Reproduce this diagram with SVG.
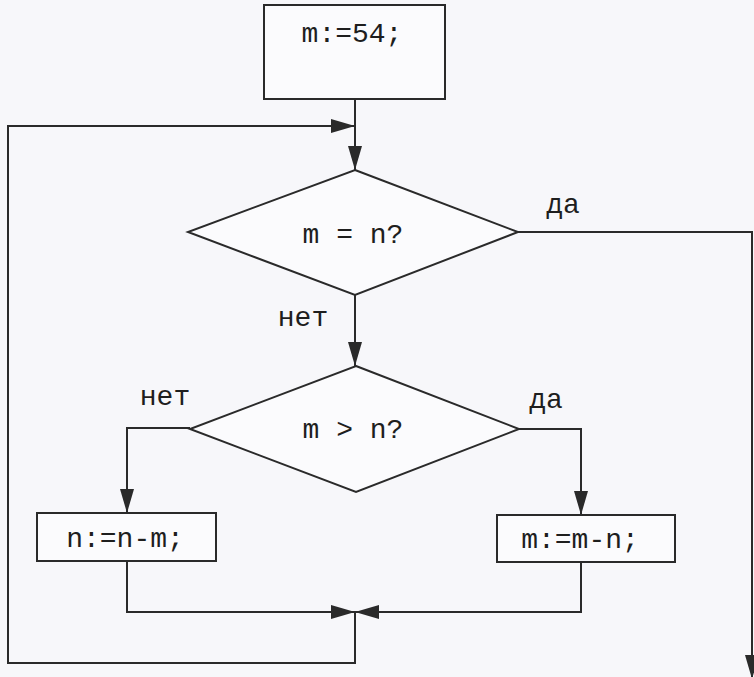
<svg xmlns="http://www.w3.org/2000/svg" width="754" height="677" viewBox="0 0 754 677">
  <style>
    .box { fill: #fbfbfd; stroke: #2a2a2a; stroke-width: 2; }
    .dia { fill: #fbfbfd; stroke: #2a2a2a; stroke-width: 2; }
    .conn { fill: none; stroke: #2a2a2a; stroke-width: 2; }
    .t { font-family: "Liberation Mono", "Courier New", monospace; font-size: 28px; fill: #1e1e1e; text-anchor: middle; }
    .lbl { font-family: "Liberation Mono", "Courier New", monospace; font-size: 28px; fill: #1e1e1e; text-anchor: middle; }
  </style>
  <defs>
    <marker id="ah" viewBox="0 0 24 14" refX="24" refY="7" markerWidth="24" markerHeight="14" markerUnits="userSpaceOnUse" orient="auto">
      <path d="M0,0 L24,7 L0,14 z" fill="#2a2a2a"/>
    </marker>
  </defs>
  <rect x="0" y="0" width="754" height="677" fill="#f7f7fa"/>

  <g id="connectors">
    <path class="conn" d="M355,99 L355,170" marker-end="url(#ah)"/>
    <path class="conn" d="M355,612 L355,663 L8,663 L8,126 L355,126" marker-end="url(#ah)"/>
    <path class="conn" d="M518,232 L752,232 L752,679" marker-end="url(#ah)"/>
    <path class="conn" d="M355,295 L355,366" marker-end="url(#ah)"/>
    <path class="conn" d="M190,428 L127,428 L127,513" marker-end="url(#ah)"/>
    <path class="conn" d="M519,429 L581,429 L581,515" marker-end="url(#ah)"/>
    <path class="conn" d="M127,561 L127,612 L355,612" marker-end="url(#ah)"/>
    <path class="conn" d="M581,562 L581,612 L355,612" marker-end="url(#ah)"/>
  </g>

  <g id="start">
    <rect class="box" x="264" y="5" width="181" height="94"/>
    <text class="t" x="352" y="42">m:=54;</text>
  </g>

  <g id="cond1">
    <polygon class="dia" points="355,170 518,232 355,295 188,232"/>
    <text class="t" x="353" y="243">m = n?</text>
  </g>

  <g id="cond2">
    <polygon class="dia" points="356,366 519,429 356,492 190,429"/>
    <text class="t" x="353" y="438">m &gt; n?</text>
  </g>

  <g id="subn">
    <rect class="box" x="37" y="513" width="179" height="48"/>
    <text class="t" x="125" y="547">n:=n-m;</text>
  </g>

  <g id="subm">
    <rect class="box" x="497" y="515" width="178" height="47"/>
    <text class="t" x="580" y="548">m:=m-n;</text>
  </g>

  <g id="labels">
    <text class="lbl" x="563" y="213">да</text>
    <text class="lbl" x="303" y="326">нет</text>
    <text class="lbl" x="165" y="405">нет</text>
    <text class="lbl" x="546" y="408">да</text>
  </g>
</svg>
